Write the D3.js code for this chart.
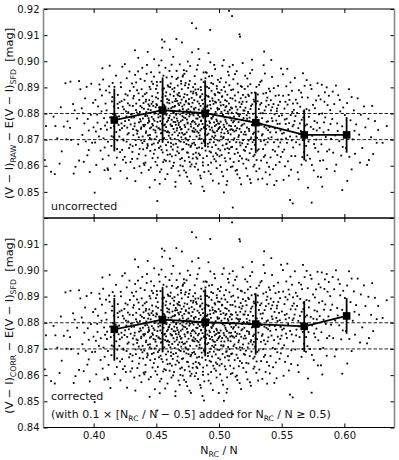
<!DOCTYPE html>
<html><head><meta charset="utf-8">
<script src="https://cdn.jsdelivr.net/npm/d3@7"></script>
<style>
body{margin:0;background:#fff}
text{font-family:"DejaVu Sans",sans-serif;white-space:pre}
</style>
</head><body>
<svg id="c" width="399" height="460"></svg>
<script>
// ---------- data ----------
const xTicks = [0.40, 0.45, 0.50, 0.55, 0.60];
const xTickLabels = ["0.40", "0.45", "0.50", "0.55", "0.60"];
const yTicks = [0.84, 0.85, 0.86, 0.87, 0.88, 0.89, 0.90, 0.91, 0.92];
const yTickLabelsRaw = ["", "0.85", "0.86", "0.87", "0.88", "0.89", "0.90", "0.91", "0.92"];
const yTickLabelsCorr = ["0.84", "0.85", "0.86", "0.87", "0.88", "0.89", "0.90", "0.91", ""];
const refLines = [0.87, 0.88];

const binX = [0.4165, 0.455, 0.489, 0.5293, 0.568, 0.6018];
const rawMean = [0.8775, 0.8813, 0.8801, 0.8765, 0.8718, 0.8718];
const corrMean = [0.8775, 0.8812, 0.8802, 0.8795, 0.8786, 0.8826];
const binErr = [0.0120, 0.0125, 0.0126, 0.0117, 0.0097, 0.0068];

// individual fields: [N_RC/N, (V-I)_RAW - E(V-I)_SFD]
const rawPoints = [
[.361,.8622],[.362,.8752],[.366,.8577],[.368,.8788],[.369,.8568],[.3695,.8752],
[.371,.8705],[.3738,.8824],[.3762,.8750],[.3775,.8916],[.3783,.8701],[.3745,.8655],[.3792,.8770],[.3728,.8608],
[.382,.8699],[.3815,.8922],[.3836,.8836],[.3855,.8596],[.3841,.8570],[.3884,.8924],[.3884,.8620],[.3894,.8893],[.3868,.8781],[.3812,.8745],[.3877,.8682],[.3849,.8812],
[.3905,.8820],[.3921,.8615],[.395,.8640],[.3961,.8660],[.3961,.8735],[.391,.8718],[.3932,.8858],[.3978,.8795],[.3944,.8902],[.3988,.8688],[.3926,.8762],[.3969,.8576],[.3915,.8801],[.3996,.8841],[.3953,.8779],[.3981,.8914],[.3937,.8693],[.3999,.8747],
[.4008,.8497],[.4014,.8852],[.4076,.8930],[.405,.8892],[.407,.8973],[.4031,.8765],[.4042,.8712],[.4063,.8808],[.4088,.8670],[.4095,.8838],[.4021,.8603],[.4057,.8741],[.4083,.8782],[.4012,.8689],[.4046,.8911],[.4072,.8625],[.4091,.8754],[.4035,.8827],[.4066,.8869],[.4018,.8731],[.4079,.8705],[.4099,.8888],[.4028,.8796],[.4055,.8658],[.4087,.8583],
[.4114,.8692],[.4128,.8983],[.4115,.8584],[.4111,.8590],[.4103,.8812],[.4137,.8745],[.4149,.8863],[.4158,.8710],[.4166,.8902],[.4172,.8778],[.4185,.8631],[.4191,.8837],[.4108,.8766],[.4124,.8904],[.4142,.8676],[.4155,.8798],[.4163,.8752],[.4178,.8945],[.4189,.8697],[.4196,.8821],[.4119,.8639],[.4131,.8785],[.4146,.8846],[.4169,.8604],[.4181,.8729],[.4193,.8871],[.4106,.8738],[.4134,.8551],[.4152,.8917],[.4175,.8793],[.4187,.8664],[.4199,.8756],[.4127,.8880],[.4161,.8827],[.4144,.8713],
[.4203,.8789],[.4211,.8652],[.4218,.8901],[.4226,.8744],[.4232,.8826],[.4239,.8697],[.4245,.8853],[.4251,.8771],[.4257,.8612],[.4264,.8935],[.4270,.8720],[.4276,.8805],[.4283,.8668],[.4289,.8887],[.4295,.8758],[.4207,.8843],[.4214,.8580],[.4222,.8762],[.4229,.8979],[.4236,.8701],[.4242,.8816],[.4248,.8634],[.4254,.8874],[.4261,.8789],[.4267,.8552],[.4273,.8839],[.4279,.8725],[.4286,.8961],[.4292,.8681],[.4298,.8797],[.4205,.8712],[.4216,.8918],[.4223,.8847],[.4234,.8623],[.4246,.8753],[.4258,.8808],[.4263,.8692],[.4271,.8869],[.4281,.8775],[.4294,.8614],[.4209,.8737],[.4227,.8661],[.4249,.8989],[.4268,.8746],[.4287,.8831],
[.4302,.8784],[.4306,.8915],[.4309,.8653],[.4313,.8829],[.4317,.8717],[.4321,.8867],[.4324,.8591],[.4328,.8762],[.4331,.8948],[.4335,.8698],[.4338,.8813],[.4342,.8736],[.4346,.8889],[.4349,.8627],[.4353,.8794],[.4356,.9013],[.4360,.8709],[.4364,.8852],[.4367,.8665],[.4371,.8778],[.4374,.8932],[.4378,.8741],[.4381,.8573],[.4385,.8823],[.4389,.8687],[.4392,.8866],[.4396,.8756],[.4399,.8609],[.4304,.8797],[.4311,.8675],[.4319,.8902],[.4326,.8751],[.4333,.8541],[.4340,.8838],[.4347,.8723],[.4354,.8961],[.4361,.8644],[.4369,.8806],[.4376,.8770],[.4383,.8893],[.4391,.8712],[.4398,.8840],[.4307,.8626],[.4315,.8858],[.4323,.8785],[.4330,.9042],[.4337,.8680],[.4344,.8804],[.4351,.8733],[.4358,.8877],[.4366,.8598],[.4373,.8829],[.4380,.8747],[.4388,.8975],[.4395,.8663],[.4314,.8740],[.4339,.8919],[.4362,.8766],[.4379,.8697],[.4393,.8781],
[.4401,.8818],[.4404,.8694],[.4407,.8925],[.4410,.8757],[.4413,.8612],[.4416,.8846],[.4419,.8732],[.4422,.8879],[.4425,.8668],[.4428,.8791],[.4431,.9036],[.4434,.8716],[.4437,.8835],[.4440,.8584],[.4443,.8769],[.4446,.8902],[.4449,.8743],[.4452,.8657],[.4455,.8813],[.4458,.8958],[.4461,.8701],[.4464,.8787],[.4467,.8866],[.4470,.8629],[.4473,.8754],[.4476,.8829],[.4479,.8685],[.4482,.8941],[.4485,.8772],[.4488,.8546],[.4491,.8806],[.4494,.8727],[.4497,.8894],[.4402,.8751],[.4408,.8874],[.4414,.8639],[.4420,.8805],[.4426,.8986],[.4432,.8676],[.4438,.8782],[.4444,.8851],[.4450,.8718],[.4456,.8593],[.4462,.8837],[.4468,.8760],[.4474,.8913],[.4480,.8646],[.4486,.8799],[.4492,.8735],[.4498,.8862],[.4405,.8603],[.4411,.8790],[.4417,.8726],[.4423,.8952],[.4429,.8683],[.4435,.8816],[.4441,.8774],[.4447,.8517],[.4453,.8893],[.4459,.8747],[.4465,.8681],[.4471,.8845],[.4477,.8779],[.4483,.9008],[.4489,.8661],[.4495,.8824],[.4418,.8853],[.4433,.8764],[.4448,.8706],[.4463,.8922],[.4478,.8738],[.4493,.8615],[.4415,.8797],[.4445,.8829],[.4487,.8702],
[.4508,.8465],[.4501,.8836],[.4503,.8712],[.4506,.8907],[.4509,.8768],[.4512,.8631],[.4514,.8857],[.4517,.8743],[.4520,.8984],[.4523,.8695],[.4525,.8812],[.4528,.8576],[.4531,.8789],[.4533,.8921],[.4536,.8724],[.4539,.8848],[.4542,.8661],[.4544,.8803],[.4547,.9052],[.4550,.8737],[.4552,.8874],[.4555,.8614],[.4558,.8781],[.4561,.8896],[.4563,.8706],[.4566,.8829],[.4569,.8758],[.4571,.8549],[.4574,.8867],[.4577,.8679],[.4580,.8795],[.4582,.8938],[.4585,.8729],[.4588,.8842],[.4590,.8642],[.4593,.8774],[.4596,.8903],[.4599,.8715],[.4502,.8750],[.4507,.8602],[.4511,.8879],[.4516,.8785],[.4521,.8668],[.4526,.8957],[.4530,.8739],[.4535,.8816],[.4540,.8586],[.4545,.8761],[.4549,.8892],[.4554,.8702],[.4559,.8834],[.4564,.8623],[.4568,.8800],[.4573,.8975],[.4578,.8748],[.4583,.8659],[.4587,.8855],[.4592,.8732],[.4597,.8819],[.4504,.8921],[.4513,.8688],[.4522,.8823],[.4532,.8771],[.4541,.9003],[.4551,.8651],[.4560,.8797],[.4570,.8734],[.4579,.8881],[.4589,.8568],[.4598,.8783],[.4505,.8832],[.4519,.8744],[.4534,.8674],[.4548,.8862],[.4562,.8755],[.4576,.8619],[.4591,.8908],[.4515,.8797],[.4543,.8726],[.4557,.8945],[.4575,.8809],[.4594,.8690],[.4527,.8531],[.4565,.9075],[.4584,.8768],[.4545,.9083],
[.4660,.9085],[.4601,.8851],[.4603,.8727],[.4605,.8963],[.4607,.8792],[.4609,.8644],[.4611,.8873],[.4613,.8758],[.4615,.8915],[.4617,.8687],[.4619,.8820],[.4621,.8591],[.4623,.8776],[.4625,.8941],[.4627,.8719],[.4629,.8843],[.4631,.8662],[.4633,.8806],[.4635,.9017],[.4637,.8741],[.4639,.8867],[.4641,.8612],[.4643,.8785],[.4645,.8898],[.4647,.8703],[.4649,.8829],[.4651,.8767],[.4653,.8538],[.4655,.8856],[.4657,.8684],[.4659,.8799],[.4661,.8932],[.4663,.8735],[.4665,.8848],[.4667,.8655],[.4669,.8772],[.4671,.8907],[.4673,.8716],[.4675,.8838],[.4677,.8579],[.4679,.8764],[.4681,.8879],[.4683,.8696],[.4685,.8813],[.4687,.8988],[.4689,.8748],[.4691,.8625],[.4693,.8841],[.4695,.8770],[.4697,.8924],[.4699,.8709],
[.4602,.8783],[.4606,.8617],[.4610,.8901],[.4614,.8810],[.4618,.8673],[.4622,.8987],[.4626,.8752],[.4630,.8825],[.4634,.8599],[.4638,.8768],[.4642,.8884],[.4646,.8728],[.4650,.8847],[.4654,.8640],[.4658,.8795],[.4662,.8963],[.4666,.8744],[.4670,.8671],[.4674,.8869],[.4678,.8756],[.4682,.8832],[.4686,.8563],[.4690,.8797],[.4694,.8692],[.4698,.8914],
[.4604,.8839],[.4612,.8706],[.4620,.8752],[.4628,.8893],[.4636,.8681],[.4644,.8826],[.4652,.8520],[.4664,.8781],[.4672,.8937],[.4680,.8648],[.4688,.8866],[.4696,.8739],[.4608,.9045],[.4624,.8636],[.4640,.8802],[.4656,.8757],[.4668,.8873],[.4684,.8725],[.4692,.8601],
[.4784,.9146],[.4704,.9072],
[.4701,.8741],[.4703,.8893],[.4705,.8662],[.4707,.8827],[.4709,.8775],[.4711,.8598],[.4713,.8946],[.4715,.8803],[.4717,.8719],[.4719,.8862],[.4721,.8690],[.4723,.8834],[.4725,.8756],[.4727,.8619],[.4729,.8908],[.4731,.8783],[.4733,.8706],[.4735,.8845],[.4737,.8574],[.4739,.8797],[.4741,.8962],[.4743,.8728],[.4745,.8651],[.4747,.8871],[.4749,.8762],[.4751,.8999],[.4753,.8697],[.4755,.8816],[.4757,.8739],[.4759,.8633],[.4761,.8855],[.4763,.8789],[.4765,.8541],[.4767,.8925],[.4769,.8712],[.4771,.8808],[.4773,.8672],[.4775,.8884],[.4777,.8750],[.4779,.8826],[.4781,.8605],[.4783,.8768],[.4785,.9034],[.4787,.8685],[.4789,.8841],[.4791,.8731],[.4793,.8877],[.4795,.8644],[.4797,.8793],[.4799,.8819],
[.4702,.8853],[.4706,.8726],[.4710,.8941],[.4714,.8664],[.4718,.8785],[.4722,.8582],[.4726,.8874],[.4730,.8748],[.4734,.8917],[.4738,.8701],[.4742,.8812],[.4746,.8558],[.4750,.8765],[.4754,.8898],[.4758,.8680],[.4762,.8836],[.4766,.8614],[.4770,.8982],[.4774,.8759],[.4778,.8677],[.4782,.8860],[.4786,.8799],[.4790,.8628],[.4794,.8901],[.4798,.8744],
[.4704,.8629],[.4712,.8817],[.4720,.8966],[.4728,.8721],[.4736,.8848],[.4744,.8777],[.4752,.8650],[.4760,.8911],[.4768,.8796],[.4776,.8532],[.4788,.8734],[.4796,.8884],[.4708,.8790],[.4724,.8952],[.4740,.8683],[.4756,.8839],[.4772,.8597],[.4792,.8772],
[.4818,.9126],
[.4801,.8688],[.4803,.8851],[.4805,.8767],[.4807,.8596],[.4809,.8913],[.4811,.8738],[.4813,.8822],[.4815,.8650],[.4817,.8879],[.4819,.8781],[.4821,.8712],[.4823,.8968],[.4825,.8801],[.4827,.8627],[.4829,.8846],[.4831,.8752],[.4833,.8585],[.4835,.8893],[.4837,.8726],[.4839,.8815],[.4841,.8670],[.4843,.9008],[.4845,.8787],[.4847,.8641],[.4849,.8862],[.4851,.8735],[.4853,.8829],[.4855,.8552],[.4857,.8771],[.4859,.8930],[.4861,.8703],[.4863,.8808],[.4865,.8667],[.4867,.8874],[.4869,.8760],[.4871,.8613],[.4873,.8837],[.4875,.8784],[.4877,.8957],[.4879,.8695],[.4881,.8748],[.4883,.8576],[.4885,.8855],[.4887,.8723],[.4889,.8810],[.4891,.8905],[.4893,.8658],[.4895,.8797],[.4897,.8741],[.4899,.8869],
[.4802,.8815],[.4806,.8943],[.4810,.8680],[.4814,.8760],[.4818,.8608],[.4822,.8872],[.4826,.8731],[.4830,.8985],[.4834,.8794],[.4838,.8647],[.4842,.8838],[.4846,.8716],[.4850,.8562],[.4854,.8901],[.4858,.8773],[.4862,.8686],[.4866,.8851],[.4870,.8803],[.4874,.8629],[.4878,.8920],[.4882,.8745],[.4886,.8826],[.4890,.8675],[.4894,.8958],[.4898,.8770],
[.4804,.8729],[.4812,.8892],[.4820,.8632],[.4828,.8780],[.4836,.9047],[.4844,.8705],[.4852,.8866],[.4860,.8741],[.4868,.8520],[.4876,.8819],[.4884,.8689],[.4892,.8935],[.4808,.8803],[.4824,.8667],[.4840,.8758],[.4856,.8890],[.4872,.8601],[.4896,.8789],[.4880,.8503],
[.4930,.9120],
[.4901,.8789],[.4903,.8637],[.4905,.8902],[.4907,.8755],[.4909,.8831],[.4911,.8684],[.4913,.8866],[.4915,.8723],[.4917,.8579],[.4919,.8811],[.4921,.8942],[.4923,.8770],[.4925,.8655],[.4927,.8847],[.4929,.8738],[.4931,.8996],[.4933,.8701],[.4935,.8819],[.4937,.8612],[.4939,.8783],[.4941,.8887],[.4943,.8746],[.4945,.8671],[.4947,.8858],[.4949,.8797],[.4951,.8543],[.4953,.8913],[.4955,.8729],[.4957,.8837],[.4959,.8690],[.4961,.8766],[.4963,.8625],[.4965,.8875],[.4967,.8752],[.4969,.8970],[.4971,.8715],[.4973,.8806],[.4975,.8648],[.4977,.8842],[.4979,.8777],[.4981,.8591],[.4983,.8895],[.4985,.8733],[.4987,.8821],[.4989,.8697],[.4991,.8929],[.4993,.8762],[.4995,.8665],[.4997,.8852],[.4999,.8744],
[.4902,.8956],[.4906,.8718],[.4910,.8803],[.4914,.8603],[.4918,.8864],[.4922,.8750],[.4926,.8689],[.4930,.8833],[.4934,.8568],[.4938,.8917],[.4942,.8780],[.4946,.8712],[.4950,.8849],[.4954,.8636],[.4958,.8795],[.4962,.8986],[.4966,.8727],[.4970,.8870],[.4974,.8679],[.4978,.8757],[.4982,.8905],[.4986,.8642],[.4990,.8815],[.4994,.8740],[.4998,.8532],
[.4904,.8826],[.4912,.8673],[.4920,.8897],[.4928,.8764],[.4936,.8651],[.4944,.8944],[.4952,.8788],[.4960,.8707],[.4968,.8845],[.4976,.8617],[.4984,.8771],[.4992,.8881],[.4916,.9031],[.4948,.8735],
[.5080,.9193],
[.5001,.8817],[.5003,.8696],[.5005,.8879],[.5007,.8748],[.5009,.8602],[.5011,.8843],[.5013,.8769],[.5015,.8935],[.5017,.8712],[.5019,.8806],[.5021,.8641],[.5023,.8864],[.5025,.8739],[.5027,.8983],[.5029,.8678],[.5031,.8795],[.5033,.8560],[.5035,.8833],[.5037,.8757],[.5039,.8498],[.5041,.8901],[.5043,.8724],[.5045,.8812],[.5047,.8663],[.5049,.8851],[.5051,.8776],[.5053,.8617],[.5055,.8919],[.5057,.8741],[.5059,.8828],[.5061,.8685],[.5063,.8762],[.5065,.8585],[.5067,.8872],[.5069,.8733],[.5071,.8960],[.5073,.8700],[.5075,.8800],[.5077,.8649],[.5079,.8838],[.5081,.8754],[.5083,.8908],[.5085,.8691],[.5087,.8785],[.5089,.8627],[.5091,.8859],[.5093,.8720],[.5095,.8823],[.5097,.8671],[.5099,.8774],
[.5002,.8761],[.5006,.8920],[.5010,.8659],[.5014,.8831],[.5018,.8727],[.5022,.8577],[.5026,.8866],[.5030,.8791],[.5034,.8706],[.5038,.9004],[.5042,.8748],[.5046,.8629],[.5050,.8884],[.5054,.8769],[.5058,.8683],[.5062,.8847],[.5066,.8541],[.5070,.8807],[.5074,.8725],[.5078,.8946],[.5082,.8664],[.5086,.8814],[.5090,.8738],[.5094,.8595],[.5098,.8890],
[.5004,.8636],[.5020,.8890],[.5036,.8710],[.5052,.8824],[.5068,.8667],[.5084,.8979],[.5096,.8752],[.5060,.8527],[.5044,.8785],
[.5104,.9173],[.5163,.9103],[.5168,.9094],[.5110,.8440],
[.5102,.8803],[.5105,.8672],[.5108,.8857],[.5111,.8736],[.5114,.8931],[.5117,.8614],[.5120,.8788],[.5123,.8705],[.5126,.8869],[.5129,.8752],[.5132,.8581],[.5135,.8826],[.5138,.8690],[.5141,.8962],[.5144,.8744],[.5147,.8815],[.5150,.8650],[.5153,.8881],[.5156,.8767],[.5159,.8717],[.5162,.8843],[.5165,.8553],[.5168,.8797],[.5171,.8678],[.5174,.8905],[.5177,.8729],[.5180,.8836],[.5183,.8628],[.5186,.8776],[.5189,.8993],[.5192,.8698],[.5195,.8812],[.5198,.8661],
[.5101,.8740],[.5107,.8597],[.5113,.8892],[.5119,.8771],[.5125,.8645],[.5131,.8849],[.5137,.8735],[.5143,.8584],[.5149,.8914],[.5155,.8710],[.5161,.8790],[.5167,.8637],[.5173,.8858],[.5179,.8753],[.5185,.8686],[.5191,.8871],[.5197,.8720],
[.5104,.8820],[.5116,.8699],[.5128,.8951],[.5140,.8664],[.5152,.8798],[.5164,.8741],[.5176,.8529],[.5188,.8845],[.5196,.8783],[.5134,.8777],[.5158,.8618],[.5182,.8902],[.5110,.8986],[.5146,.8567],[.5170,.8825],[.5194,.8608],[.5122,.8731],[.5139,.8803],[.5166,.8689],[.5187,.8757],[.5112,.8766],
[.5202,.8761],[.5205,.8894],[.5208,.8657],[.5211,.8822],[.5214,.8719],[.5217,.8590],[.5220,.8845],[.5223,.8746],[.5226,.8934],[.5229,.8683],[.5232,.8806],[.5235,.8621],[.5238,.8867],[.5241,.8733],[.5244,.8784],[.5247,.8548],[.5250,.8912],[.5253,.8702],[.5256,.8829],[.5259,.8664],[.5262,.8756],[.5265,.8967],[.5268,.8690],[.5271,.8799],[.5274,.8636],[.5277,.8853],[.5280,.8727],[.5283,.8604],[.5286,.8880],[.5289,.8774],[.5292,.8710],[.5295,.8838],[.5298,.8579],
[.5203,.8811],[.5209,.8945],[.5215,.8672],[.5221,.8793],[.5227,.8561],[.5233,.8872],[.5239,.8741],[.5245,.8648],[.5251,.8817],[.5257,.8708],[.5263,.9006],[.5269,.8765],[.5275,.8597],[.5281,.8846],[.5287,.8680],[.5293,.8788],[.5299,.8902],
[.5206,.8730],[.5218,.8625],[.5230,.8904],[.5242,.8770],[.5254,.8534],[.5266,.8835],[.5278,.8699],[.5290,.8761],[.5212,.8862],[.5236,.8697],[.5260,.8879],[.5284,.8642],[.5224,.8780],[.5248,.8954],[.5272,.8722],
[.5360,.9037],
[.5302,.8786],[.5306,.8658],[.5310,.8873],[.5314,.8731],[.5318,.8817],[.5322,.8589],[.5326,.8762],[.5330,.8921],[.5334,.8694],[.5338,.8840],[.5342,.8716],[.5346,.8551],[.5350,.8801],[.5354,.8876],[.5358,.8634],[.5362,.8749],[.5366,.8953],[.5370,.8681],[.5374,.8826],[.5378,.8743],[.5382,.8612],[.5386,.8861],[.5390,.8770],[.5394,.8705],[.5398,.8895],
[.5304,.8707],[.5312,.8548],[.5320,.8910],[.5328,.8834],[.5336,.8620],[.5344,.8782],[.5352,.8664],[.5356,.8985],[.5364,.8812],[.5372,.8575],[.5380,.8768],[.5388,.8690],[.5396,.8833],[.5308,.8847],[.5316,.8663],[.5324,.8756],[.5332,.8801],[.5340,.8926],[.5348,.8721],[.5368,.8640],[.5376,.8879],[.5384,.8529],[.5392,.8736],[.5300,.8622],[.5339,.8757],[.5359,.8697],[.5379,.8849],[.5399,.8596],
[.5403,.8748],[.5407,.8885],[.5411,.8632],[.5415,.8812],[.5419,.8709],[.5423,.8940],[.5427,.8771],[.5431,.8587],[.5435,.8836],[.5439,.8690],[.5443,.8797],[.5447,.8655],[.5451,.8868],[.5455,.8728],[.5459,.8542],[.5463,.8819],[.5467,.8760],[.5471,.8906],[.5475,.8673],[.5479,.8790],[.5483,.8614],[.5487,.8845],[.5491,.8735],[.5495,.8972],[.5499,.8701],
[.5405,.8566],[.5413,.8851],[.5421,.8782],[.5429,.8661],[.5437,.8897],[.5445,.8743],[.5453,.8603],[.5461,.8809],[.5469,.8700],[.5477,.8870],[.5485,.8761],[.5493,.8634],[.5409,.8728],[.5425,.8824],[.5441,.8526],[.5457,.8773],[.5473,.8832],[.5489,.8689],[.5417,.9005],[.5465,.8641],
[.5567,.8469],[.5588,.8456],
[.5502,.8793],[.5507,.8653],[.5512,.8868],[.5517,.8726],[.5522,.8819],[.5527,.8598],[.5532,.8760],[.5537,.8904],[.5542,.8688],[.5547,.8834],[.5552,.8740],[.5557,.8562],[.5562,.8852],[.5567,.8712],[.5572,.8794],[.5577,.8637],[.5582,.8887],[.5587,.8751],[.5592,.8670],[.5597,.8814],
[.5504,.8723],[.5510,.8950],[.5520,.8662],[.5530,.8845],[.5540,.8780],[.5550,.8617],[.5560,.8763],[.5570,.8919],[.5580,.8697],[.5590,.8838],[.5515,.8546],[.5535,.8705],[.5555,.8871],[.5575,.8585],[.5595,.8757],[.5545,.8971],[.5525,.8777],[.5585,.8806],
[.5699,.8928],
[.5603,.8771],[.5608,.8637],[.5613,.8853],[.5618,.8712],[.5623,.8802],[.5628,.8575],[.5633,.8744],[.5638,.8889],[.5643,.8681],[.5648,.8826],[.5653,.8733],[.5658,.8604],[.5663,.8862],[.5668,.8698],[.5673,.8785],[.5678,.8652],[.5683,.8906],[.5688,.8754],[.5693,.8620],[.5698,.8817],
[.5605,.8936],[.5615,.8690],[.5625,.8839],[.5635,.8548],[.5645,.8762],[.5655,.8880],[.5665,.8633],[.5675,.8808],[.5685,.8726],[.5695,.8676],[.5610,.8790],[.5640,.8722],[.5670,.8954],[.5660,.8776],
[.5739,.8459],[.5710,.8516],
[.5702,.8758],[.5708,.8861],[.5714,.8693],[.5720,.8812],[.5726,.8627],[.5732,.8749],[.5738,.8894],[.5744,.8715],[.5750,.8833],[.5756,.8582],[.5762,.8771],[.5768,.8668],[.5774,.8850],[.5780,.8735],[.5786,.8916],[.5792,.8654],[.5798,.8797],
[.5705,.8640],[.5717,.8787],[.5729,.8909],[.5741,.8603],[.5753,.8740],[.5765,.8820],[.5777,.8700],[.5789,.8558],[.5795,.8868],[.5759,.8683],[.5783,.8765],
[.5859,.8900],[.5824,.8520],
[.5803,.8745],[.5810,.8854],[.5817,.8682],[.5824,.8800],[.5831,.8621],[.5838,.8766],[.5845,.8881],[.5852,.8710],[.5859,.8588],[.5866,.8832],[.5873,.8737],[.5880,.8662],[.5887,.8813],[.5894,.8703],
[.5806,.8619],[.5820,.8910],[.5834,.8728],[.5848,.8785],[.5862,.8655],[.5876,.8868],[.5890,.8760],[.5813,.8556],[.5841,.8845],
[.5933,.8907],[.5983,.8507],
[.5903,.8779],[.5911,.8650],[.5919,.8836],[.5927,.8716],[.5935,.8604],[.5943,.8762],[.5951,.8870],[.5959,.8694],[.5967,.8808],[.5975,.8639],[.5983,.8751],[.5991,.8823],[.5999,.8728],
[.5907,.8884],[.5923,.8579],[.5947,.8733],[.5963,.8852],[.5987,.8672],
[.6023,.8542],[.6058,.8586],
[.6004,.8794],[.6013,.8667],[.6022,.8840],[.6031,.8725],[.6040,.8634],[.6049,.8774],[.6058,.8863],[.6067,.8701],[.6076,.8812],[.6085,.8646],[.6094,.8758],[.6037,.8893],[.6081,.8734],
[.6106,.8858],[.6196,.8622],[.6118,.8719],[.6131,.8795],[.6143,.8668],[.6156,.8827],[.6168,.8747],[.6181,.8603],[.6192,.8780],[.6125,.8612],
[.6222,.8829],[.6230,.8645],[.6270,.8737],[.6244,.8771],[.6258,.8688],[.6213,.8709],
[.6305,.8688],[.6338,.8752]
];
// lower panel: the correction stated in the panel, 0.1 x [N_RC/N - 0.5] added for N_RC/N >= 0.5
const corrPoints = rawPoints.map(([px, py]) => [px, px >= 0.5 ? py + 0.1 * (px - 0.5) : py]);

// ---------- drawing ----------
const svg = d3.select("#c");
const L = 43.5, R = 394.5;
const x = d3.scaleLinear().domain([0.36, 0.64]).range([L, R]);

const panels = [
  {top: 9, bottom: 218, pts: rawPoints, mean: rawMean, ylab: yTickLabelsRaw,
   yTitle: [["(V − I)", 0], ["RAW", 1], [" − E(V − I)", 0], ["SFD", 1], ["  [mag]", 0]],
   note: [[[["uncorrected", 0]], 210]], xLabels: false},
  {top: 218, bottom: 427.5, pts: corrPoints, mean: corrMean, ylab: yTickLabelsCorr,
   yTitle: [["(V − I)", 0], ["CORR", 1], [" − E(V − I)", 0], ["SFD", 1], ["  [mag]", 0]],
   note: [[[["corrected", 0]], 400],
          [[["(with 0.1 × [N", 0], ["RC", 1], [" / N − 0.5] added for N", 0], ["RC", 1], [" / N ≥ 0.5)", 0]], 418]],
   xLabels: true}
];

function rich(textSel, parts, subSize) {
  parts.forEach(([t, sub], i) => {
    const ts = textSel.append("tspan").text(t);
    if (sub) ts.attr("font-size", subSize).attr("dy", 2.6);
    else if (i > 0 && parts[i - 1][1]) ts.attr("dy", -2.6);
  });
}

panels.forEach((p, pi) => {
  const y = d3.scaleLinear().domain([0.84, 0.92]).range([p.bottom, p.top]);
  const g = svg.append("g");
  const clipId = "clip" + pi;
  svg.append("clipPath").attr("id", clipId).append("rect")
    .attr("x", L).attr("y", p.top).attr("width", R - L).attr("height", p.bottom - p.top);

  // reference dashed lines
  g.selectAll(".ref").data(refLines).join("line")
    .attr("x1", L).attr("x2", R).attr("y1", d => y(d)).attr("y2", d => y(d))
    .attr("stroke", "#222").attr("stroke-width", 1).attr("stroke-dasharray", "3.5,2");

  // scatter
  g.append("g").attr("clip-path", `url(#${clipId})`)
    .selectAll("rect").data(p.pts).join("rect")
    .attr("x", d => x(d[0]) - 0.9).attr("y", d => y(d[1]) - 0.9)
    .attr("width", 1.8).attr("height", 1.8).attr("fill", "#000");

  // binned means
  const bins = binX.map((bx, i) => ({x: bx, m: p.mean[i], e: binErr[i]}));
  g.selectAll(".eb").data(bins).join("line")
    .attr("x1", d => x(d.x)).attr("x2", d => x(d.x))
    .attr("y1", d => y(d.m - d.e)).attr("y2", d => y(d.m + d.e))
    .attr("stroke", "#000").attr("stroke-width", 1.8);
  g.append("path").datum(bins)
    .attr("d", d3.line().x(d => x(d.x)).y(d => y(d.m)))
    .attr("fill", "none").attr("stroke", "#000").attr("stroke-width", 1.8);
  g.selectAll(".sq").data(bins).join("rect")
    .attr("x", d => x(d.x) - 3.8).attr("y", d => y(d.m) - 3.8)
    .attr("width", 7.6).attr("height", 7.6).attr("fill", "#000");

  // axes (inward ticks)
  const axL = d3.axisLeft(y).tickValues(yTicks).tickSize(-4).tickPadding(4)
    .tickFormat((d, i) => p.ylab[i]);
  const axR = d3.axisRight(y).tickValues(yTicks).tickSize(-4).tickFormat("");
  const axT = d3.axisTop(x).tickValues(xTicks).tickSize(-4).tickFormat("");
  const axB = d3.axisBottom(x).tickValues(xTicks).tickSize(-4).tickPadding(4)
    .tickFormat((d, i) => p.xLabels ? xTickLabels[i] : "");
  [[axL, `translate(${L},0)`], [axR, `translate(${R},0)`],
   [axT, `translate(0,${p.top})`], [axB, `translate(0,${p.bottom})`]].forEach(([ax, tr]) => {
    const a = svg.append("g").attr("transform", tr).call(ax);
    a.select(".domain").remove();
    a.selectAll("text").attr("font-size", 10).attr("font-family", "DejaVu Sans").attr("fill", "#111");
    a.selectAll("line").attr("stroke", "#000");
  });

  // spines
  svg.append("line").attr("x1", L).attr("x2", R).attr("y1", p.top).attr("y2", p.top).attr("stroke", "#000");
  svg.append("line").attr("x1", L).attr("x2", R).attr("y1", p.bottom).attr("y2", p.bottom).attr("stroke", "#000");
  svg.append("line").attr("x1", L).attr("x2", L).attr("y1", p.top).attr("y2", p.bottom).attr("stroke", "#888").attr("stroke-width", 1.6);
  svg.append("line").attr("x1", R).attr("x2", R).attr("y1", p.top).attr("y2", p.bottom).attr("stroke", "#888").attr("stroke-width", 1.6);

  // y title
  const cy = (p.top + p.bottom) / 2 + (pi ? 3 : 0);
  const yt = svg.append("text").attr("transform", `translate(13,${cy}) rotate(-90)`)
    .attr("text-anchor", "middle").attr("font-size", 11.3).attr("fill", "#111");
  rich(yt, p.yTitle, 7.8);

  // notes
  p.note.forEach(([parts, by]) => {
    const t = svg.append("text").attr("x", 51).attr("y", by).attr("font-size", 11).attr("fill", "#111");
    rich(t, parts, 7.5);
  });
});

// x title
const xt = svg.append("text").attr("x", (L + R) / 2).attr("y", 454)
  .attr("text-anchor", "middle").attr("font-size", 11).attr("fill", "#111");
rich(xt, [["N", 0], ["RC", 1], [" / N", 0]], 7.8);
</script>
</body></html>
